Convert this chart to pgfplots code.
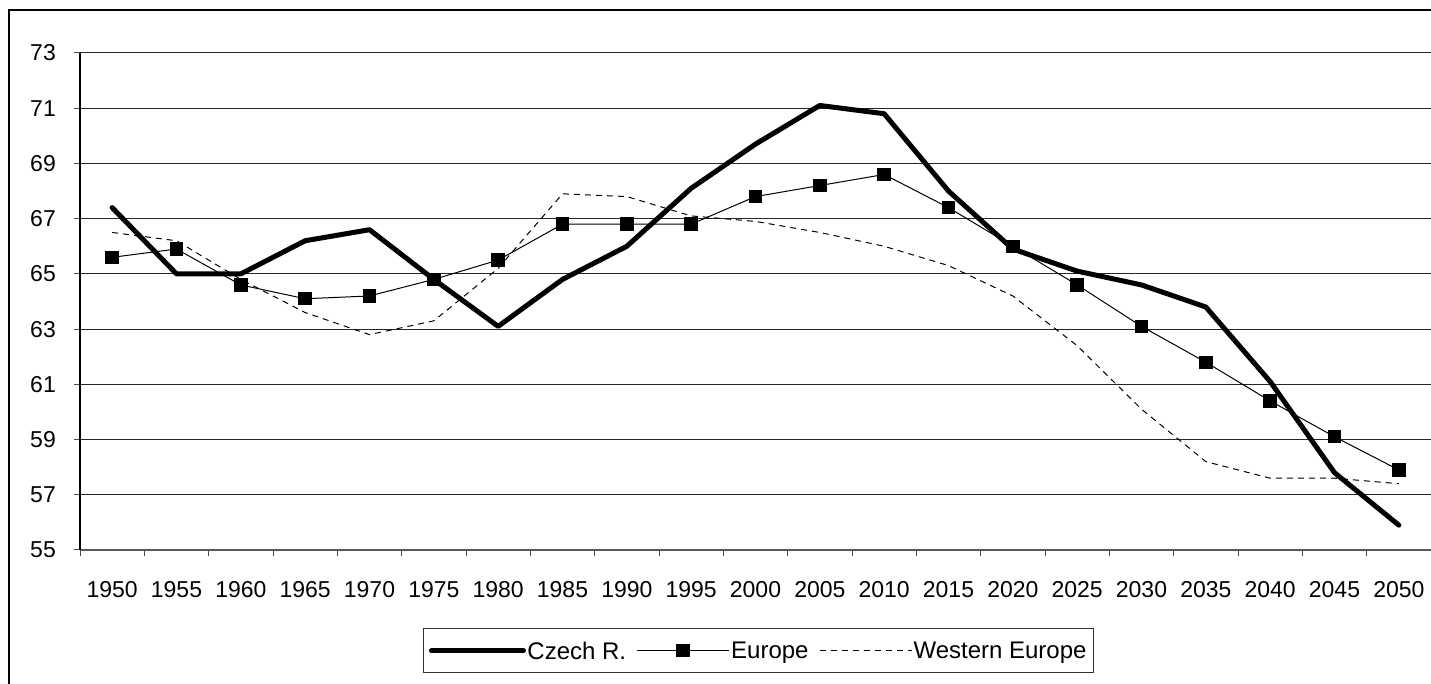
\documentclass[border=0pt]{standalone}
\usepackage{fontspec}
\setmainfont{Liberation Sans}
\usepackage{pgfplots}
\pgfplotsset{compat=1.18}
\begin{document}
\begin{tikzpicture}[x=1pt,y=1pt]
\path[use as bounding box] (-80,-134) rectangle (1351,550);
\draw[line width=2.2pt,black] (-71,-140) -- (-71,540) -- (1360,540);
\begin{axis}[
  at={(0,0)}, anchor=south west,
  scale only axis,
  width=1351pt, height=497pt,
  xmin=-0.5, xmax=20.5,
  ymin=55, ymax=73,
  ytick={55,57,...,73},
  xtick={-0.5,0.5,...,20.5},
  x tick label as interval,
  xticklabels={1950,1955,1960,1965,1970,1975,1980,1985,1990,1995,2000,2005,2010,2015,2020,2025,2030,2035,2040,2045,2050},
  tick align=outside,
  major tick length=6pt,
  tick style={black!70, line width=1pt},
  axis x line*=bottom,
  axis y line*=left,
  x axis line style={-, line width=1.5pt, black!65},
  y axis line style={-, line width=1.2pt, black},
  ymajorgrids=true,
  xmajorgrids=false,
  grid style={line width=1pt, black!85},
  /pgf/number format/assume math mode=true,
  yticklabel style={font=\fontsize{23}{27}\selectfont, anchor=east, inner sep=0pt, xshift=-18pt},
  xticklabel style={font=\fontsize{23}{27}\selectfont, anchor=north, inner sep=0pt, yshift=-25pt},
  legend columns=3,
  legend style={at={(0.5,0)}, anchor=north, yshift=-78pt, xshift=3pt,
    draw=black!80, line width=1pt, inner xsep=5pt, inner ysep=12pt,
    font=\fontsize{24}{28}\selectfont,
    nodes={inner sep=1.5pt, text depth=0pt},
    /tikz/every even column/.append style={column sep=9pt}},
  legend image code/.code={\draw[mark repeat=2,mark phase=2,#1] plot coordinates {(0pt,0pt) (46pt,0pt) (92pt,0pt)};},
]
\addplot[black, line width=5pt, line join=round, line cap=round] coordinates {
(0,67.4) (1,65.0) (2,65.0) (3,66.2) (4,66.6) (5,64.8) (6,63.1) (7,64.8) (8,66.0) (9,68.1) (10,69.7)
(11,71.1) (12,70.8) (13,68.0) (14,65.9) (15,65.1) (16,64.6) (17,63.8) (18,61.1) (19,57.8) (20,55.9)};
\addlegendentry{Czech R.}
\addplot[black, line width=1pt, mark=square*, mark size=6.2pt, mark options={solid}] coordinates {
(0,65.6) (1,65.9) (2,64.6) (3,64.1) (4,64.2) (5,64.8) (6,65.5) (7,66.8) (8,66.8) (9,66.8) (10,67.8)
(11,68.2) (12,68.6) (13,67.4) (14,66.0) (15,64.6) (16,63.1) (17,61.8) (18,60.4) (19,59.1) (20,57.9)};
\addlegendentry{Europe}
\addplot[black, line width=1pt, dash pattern=on 6pt off 5pt] coordinates {
(0,66.5) (1,66.2) (2,64.8) (3,63.6) (4,62.8) (5,63.3) (6,65.2) (7,67.9) (8,67.8) (9,67.1) (10,66.9)
(11,66.5) (12,66.0) (13,65.3) (14,64.2) (15,62.4) (16,60.1) (17,58.2) (18,57.6) (19,57.6) (20,57.4)};
\addlegendentry{Western Europe}
\end{axis}
\end{tikzpicture}
\end{document}
